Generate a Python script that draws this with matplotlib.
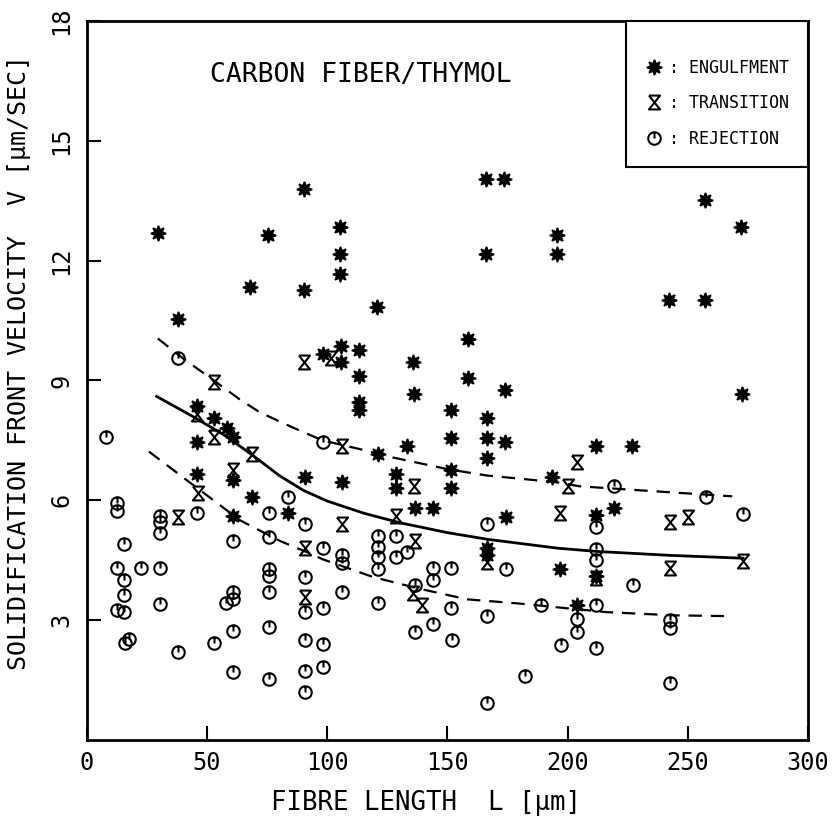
import numpy as np
import matplotlib.pyplot as plt
from matplotlib.path import Path
from matplotlib.lines import Line2D

plt.rcParams['font.family'] = ['DejaVu Sans Mono']

# ---- data ----
# engulfment points (fibre length, velocity)
engX = [29.5, 38, 67.8, 75.4, 90.3, 90.3, 105.2, 105.2, 105.2, 120.6, 158.6, 166, 173.5, 166,
        195.6, 195.6, 135.7, 105.5, 113.2, 98.1, 105.5, 113.2, 158.6, 257.2, 272.1, 242.3, 257.2,
        272.5, 211.9, 226.8, 193.5, 211.9, 219.2, 196.9, 204.1, 113.2, 113.2, 136.1, 174, 151.5,
        166.5, 151.5, 166.5, 174, 166.5, 133.2, 121.1, 151.5, 90.8, 106, 128.7, 128.7, 151.5,
        136.5, 143.8, 174.4, 166.5, 166.5, 45.8, 52.8, 58.3, 60.8, 45.8, 45.8, 60.8, 68.6, 60.8,
        83.6, 211.9]
engY = [12.7, 10.55, 11.35, 12.65, 13.8, 11.27, 12.85, 12.17, 11.67, 10.85, 10.05, 14.05, 14.05, 12.17,
        12.65, 12.17, 9.45, 9.87, 9.77, 9.67, 9.45, 9.1, 9.07, 13.52, 12.83, 11.02, 11.02,
        8.65, 7.35, 7.35, 6.58, 5.62, 5.8, 4.27, 3.37, 8.45, 8.25, 8.67, 8.75, 8.27,
        8.07, 7.55, 7.55, 7.47, 7.07, 7.37, 7.17, 6.77, 6.58, 6.47, 6.67, 6.3, 6.3,
        5.8, 5.8, 5.57, 4.8, 4.62, 8.37, 8.07, 7.8, 7.58, 7.47, 6.67, 6.5, 6.08, 5.6,
        5.67, 4.1]

# transition points
traX = [90.3, 101.5, 106, 136.1, 106, 90.8, 136.4, 166.5, 135.7, 139.4, 90.8, 204.1, 200.1,
        196.9, 242.7, 250.1, 273, 242.7, 211.9, 52.8, 45.8, 52.8, 68.6, 60.8, 46.2, 38, 128.7]
traY = [9.45, 9.55, 7.35, 6.35, 5.4, 4.8, 4.97, 4.45, 3.67, 3.37, 3.57, 6.95, 6.35,
        5.67, 5.45, 5.57, 4.47, 4.3, 4.05, 8.97, 8.17, 7.58, 7.17, 6.75, 6.17, 5.58, 5.6]

# rejection points
rejX = [38, 98.1, 219.2, 257.5, 211.9, 273, 211.9, 211.9, 227.3, 211.9, 204.1, 204.1, 242.7, 242.7,
        197.1, 211.9, 242.7, 189.0, 166.5, 90.8, 98.3, 121.1, 121.1, 121.1, 121.1, 128.7, 128.7,
        133.2, 106, 106, 143.8, 143.8, 151.5, 174.4, 136.4, 106, 121.1, 90.8, 90.8, 98.3, 151.5,
        166.5, 90.8, 98.2, 136.5, 144, 151.8, 90.8, 98.2, 182.3, 90.8, 166.5, 7.9, 83.6, 12.5,
        12.5, 30.4, 30.4, 30.4, 45.8, 75.9, 15.4, 60.8, 75.8, 12.5, 22.4, 30.4, 15.4, 15.4, 12.5,
        15.4, 30.4, 75.8, 75.8, 60.8, 57.9, 60.8, 75.8, 75.8, 60.8, 15.8, 17.5, 38, 52.8, 60.8,
        75.8]
rejY = [9.57, 7.47, 6.35, 6.08, 5.32, 5.65, 4.77, 4.5, 3.87, 3.37, 3.02, 2.7, 3.0, 2.8,
        2.37, 2.3, 1.42, 3.37, 5.4, 5.4, 4.8, 5.1, 4.82, 4.57, 4.27, 5.1, 4.57,
        4.7, 4.62, 4.42, 4.3, 4.0, 4.3, 4.27, 3.88, 3.7, 3.42, 4.07, 3.2, 3.3, 3.3,
        3.1, 2.5, 2.4, 2.7, 2.9, 2.5, 1.72, 1.83, 1.6, 1.2, 0.92, 7.58, 6.08, 5.92,
        5.72, 5.6, 5.45, 5.17, 5.67, 5.67, 4.9, 4.97, 5.07, 4.3, 4.3, 4.3, 4.0, 3.62, 3.25,
        3.2, 3.4, 4.27, 4.1, 3.7, 3.42, 3.52, 3.7, 2.82, 2.72, 2.42, 2.52, 2.2, 2.42, 1.7,
        1.52]

# fitted curves
midX = [29, 44, 58, 70, 80, 90, 100, 115, 130, 150, 167, 196, 212, 243, 273]
midY = [8.6, 8.1, 7.6, 7.08, 6.62, 6.25, 5.98, 5.68, 5.44, 5.19, 5.02, 4.8, 4.72, 4.62, 4.55]
upX = [29.5, 40, 52.8, 63.7, 72, 85.7, 98, 113.6, 127.4, 150.8, 166.5, 195.6, 205, 230, 268.5]
upY = [10.05, 9.55, 9.0, 8.52, 8.2, 7.82, 7.5, 7.28, 7.07, 6.77, 6.62, 6.45, 6.35, 6.25, 6.1]
loX = [25.8, 41.6, 63.7, 80.4, 92.8, 98.2, 119, 137.3, 158.2, 179, 194.1, 216.2, 244, 266.6]
loY = [7.22, 6.5, 5.5, 4.98, 4.67, 4.52, 4.08, 3.8, 3.52, 3.42, 3.33, 3.2, 3.12, 3.1]

xticks = [0, 50, 100, 150, 200, 250, 300]
yticks = [3, 6, 9, 12, 15, 18]

# ---- custom markers ----
rejMarker = Path.make_compound_path(Path.unit_circle(),
                                    Path([[0, 0], [0, 1]], [Path.MOVETO, Path.LINETO]))
traMarker = Path([[-0.8, 1], [0.8, 1], [-0.8, -1], [0.8, -1], [-0.8, 1]],
                 [Path.MOVETO, Path.LINETO, Path.LINETO, Path.LINETO, Path.LINETO])
engMarker = (8, 1, 0)

fig = plt.figure(figsize=(8.36, 8.18), dpi=100)
ax = fig.add_axes([0.104, 0.0954, 0.8625, 0.879])

ax.plot(midX, midY, color='black', lw=2)
ax.plot(upX, upY, color='black', lw=1.6, ls=(0, (6, 4)))
ax.plot(loX, loY, color='black', lw=1.6, ls=(0, (6, 4)))

ax.plot(rejX, rejY, ls='none', marker=rejMarker, ms=9, mfc='none', mec='black', mew=1.5)
ax.plot(traX, traY, ls='none', marker=traMarker, ms=10, mfc='none', mec='black', mew=1.5)
ax.plot(engX, engY, ls='none', marker=engMarker, ms=11, mfc='black', mec='black', mew=1.2)

ax.set_xlim(0, 300)
ax.set_ylim(0, 18)
ax.set_xticks(xticks)
ax.set_yticks(yticks)
ax.tick_params(direction='in', length=10, width=1.5, labelsize=17, top=False, right=False)
ax.tick_params(axis='x', pad=8)
ax.tick_params(axis='y', pad=10)
for lab in ax.get_yticklabels():
    lab.set_rotation(90)
    lab.set_va('center')
for s in ax.spines.values():
    s.set_linewidth(2)

ax.set_xlabel('FIBRE LENGTH  L [μm]', fontsize=18.5)
ax.xaxis.set_label_coords(0.47, -0.07)
ax.set_ylabel('SOLIDIFICATION FRONT VELOCITY  V [μm/SEC]', fontsize=18)
ax.yaxis.set_label_coords(-0.078, 0.525)

ax.text(0.38, 0.925, 'CARBON FIBER/THYMOL', transform=ax.transAxes, fontsize=19,
        ha='center', va='center')

handles = [Line2D([], [], ls='none', marker=engMarker, ms=11, mfc='black', mec='black', mew=1.2),
           Line2D([], [], ls='none', marker=traMarker, ms=10, mfc='none', mec='black', mew=1.5),
           Line2D([], [], ls='none', marker=rejMarker, ms=9, mfc='none', mec='black', mew=1.5)]
labels = [': ENGULFMENT', ': TRANSITION', ': REJECTION']
leg = ax.legend(handles, labels, loc='upper right', borderaxespad=0, fancybox=False,
                framealpha=1, edgecolor='black', fontsize=12, handlelength=1.0,
                handletextpad=0.4, labelspacing=1.05, borderpad=1.15,
                title=' ', title_fontsize=1)
leg.get_frame().set_linewidth(1.5)

fig.savefig('out.png', dpi=100)
